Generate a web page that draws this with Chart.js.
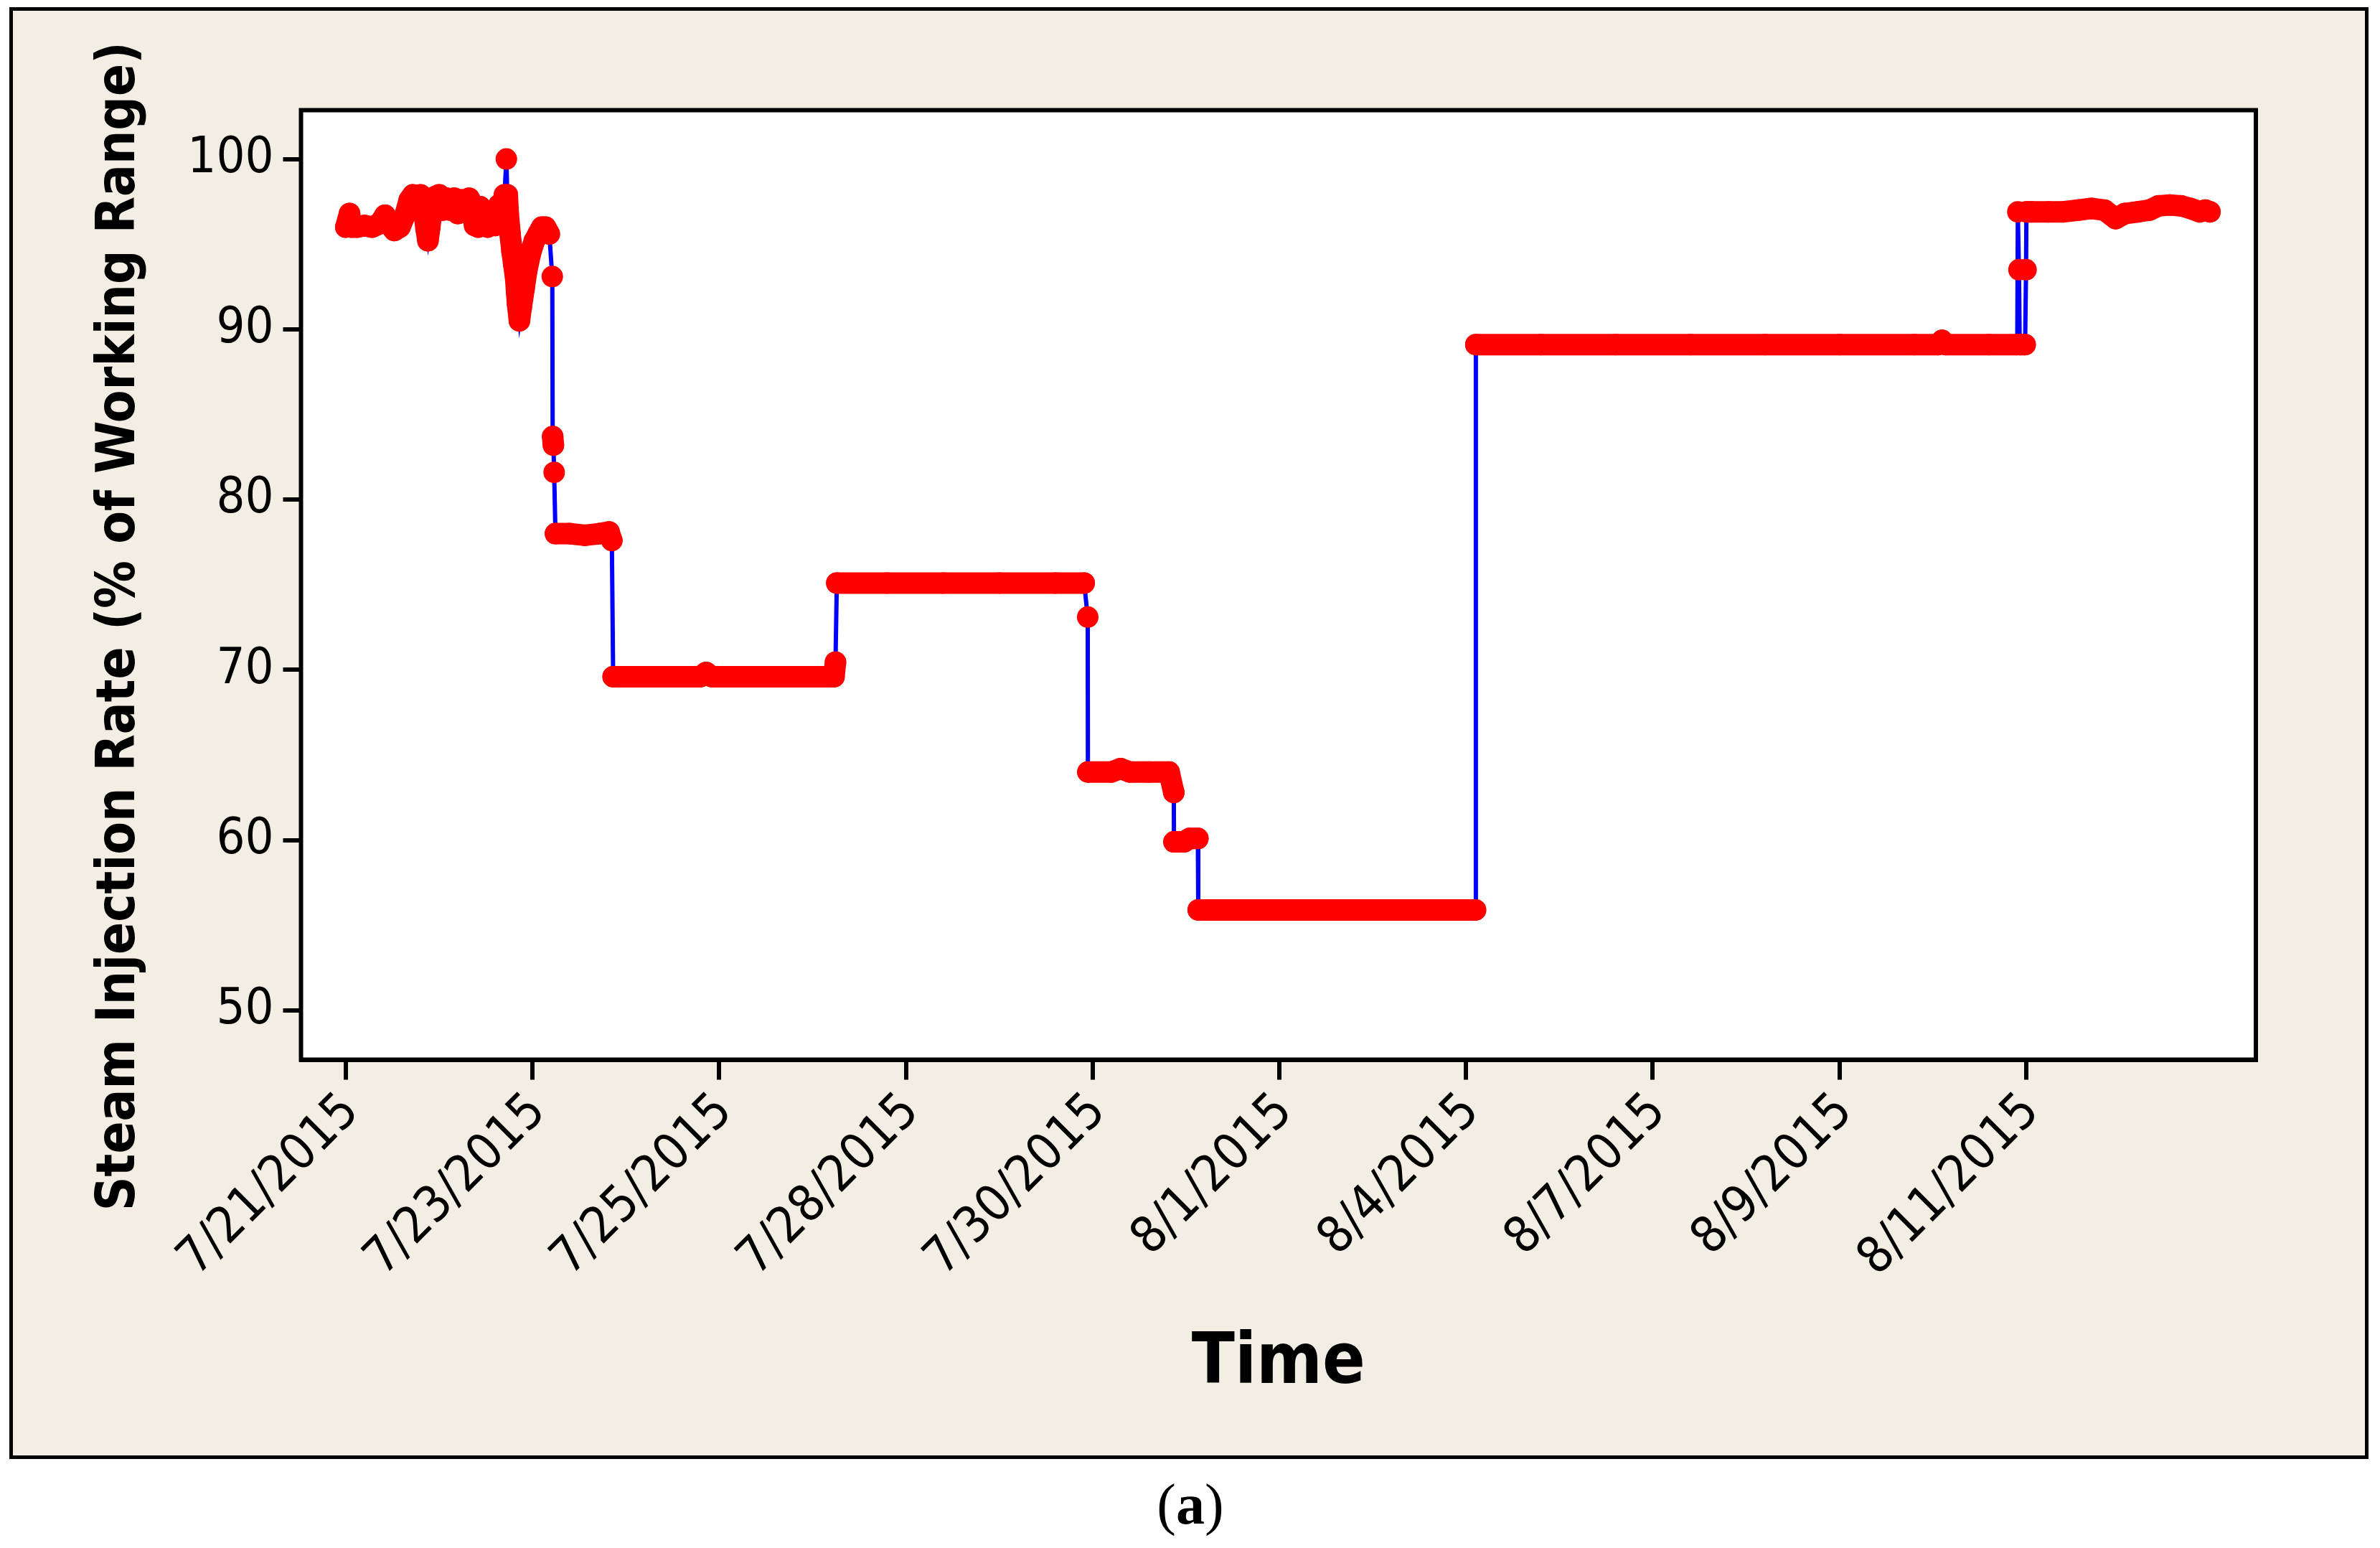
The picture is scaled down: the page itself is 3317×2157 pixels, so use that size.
<!DOCTYPE html>
<html><head><meta charset="utf-8">
<script src="https://cdn.jsdelivr.net/npm/chart.js@4.4.1/dist/chart.umd.min.js"></script>
<style>
html,body{margin:0;padding:0;background:#fff;width:3317px;height:2157px;overflow:hidden;}
#panel{position:absolute;left:13px;top:10px;width:3278px;height:2013px;border:5px solid #000;background:#F3EEE3;}
#panel canvas{position:absolute;left:0;top:0;}
#caption{position:absolute;left:1559px;top:2056px;width:200px;text-align:center;font:80px/80px "Liberation Serif","Times New Roman",serif;color:#000;}
</style></head><body>
<div id="panel"><canvas id="c" width="3278" height="2013"></canvas></div>
<div id="caption">(<b>a</b>)</div>
<script>
// observation index (tick spacing = 100 observations) and steam injection rate (% of working range)
const obsIndex = [
  0,2,3,6,10,14,18,21,23,26,29,32,34,36,38,40,42,43,44,45,46,48,50,52,54,56,58,60,62,64,66,68,69,71,72,74,76,78,80,82,83,84,85,
  86,86.5,87,88,89,90,91,91.5,92,93,94,95.5,97,99,101,103,105,107,109,110.6,110.8,111.2,111.6,112.3,
  120,128,136,141,142.5,143.2,
  160,180,190,193,196,220,245,261.5,262.3,263,
  290,320,350,380,395.5,397.4,397.5,
  410,415,420,430,441,443.5,443.6,
  449,452,456.4,456.6,
  480,510,540,570,605.1,605.3,
  640,680,720,760,800,840,853,855,857,880,895.3,895.6,896.2,896.6,899.5,900.0,900.2,
  903,912,920,928,935,942,948,953,960,966,971,977,983,988,993,996,998.5
];
const steamRate = [
  96.0,96.8,96.0,96.0,96.1,96.0,96.2,96.7,96.2,95.8,96.0,96.8,97.6,97.9,97.2,97.9,96.8,95.9,95.2,96.0,96.9,97.8,97.9,97.0,97.7,97.0,97.7,96.8,97.6,96.9,97.7,96.8,96.1,96.0,97.2,96.3,96.0,96.7,96.1,97.3,96.6,97.4,97.9,
  100.0,97.9,96.8,95.6,94.6,93.8,93.0,92.2,91.5,90.5,91.3,92.4,93.5,94.5,95.2,95.6,96.0,96.0,95.6,93.1,83.7,83.2,81.6,78.0,
  78.0,77.9,78.0,78.1,77.6,69.6,
  69.6,69.6,69.6,69.85,69.6,69.6,69.6,69.6,70.45,75.1,
  75.1,75.1,75.1,75.1,75.1,73.1,64.0,
  64.0,64.2,64.0,64.0,64.0,62.8,59.9,
  59.9,60.1,60.1,55.9,
  55.9,55.9,55.9,55.9,55.9,89.1,
  89.1,89.1,89.1,89.1,89.1,89.1,89.1,89.35,89.1,89.1,89.1,96.9,93.5,89.1,89.1,93.5,96.9,
  96.9,96.9,96.9,97.0,97.1,97.0,96.5,96.8,96.9,97.0,97.25,97.3,97.25,97.1,96.9,97.0,96.9
];
const dateTickIndex = [0,100,200,300,400,500,600,700,800,900];
const dateTickLabels = ['7/21/2015','7/23/2015','7/25/2015','7/28/2015','7/30/2015','8/1/2015','8/4/2015','8/7/2015','8/9/2015','8/11/2015'];
const rateTicks = [50,60,70,80,90,100];
const xTitle = 'Time';
const yTitle = 'Steam Injection Rate (% of Working Range)';

function fontAvailable(name){
  const c=document.createElement('canvas').getContext('2d');
  const s='mmmmmmmmmmlli0123456789/WQ';
  c.font='72px monospace'; const a=c.measureText(s).width;
  c.font='72px "'+name+'", monospace'; const b=c.measureText(s).width;
  return a!==b;
}
const COND = fontAvailable('DejaVu Sans Condensed');
const FAMILY = COND ? '"DejaVu Sans Condensed", "DejaVu Sans", sans-serif' : '"DejaVu Sans", sans-serif';
const K = COND ? 1 : 0.92;
const TICK_SIZE = Math.round(70*K), YT_SIZE = Math.round(74*K), XT_SIZE = Math.round(98*K);

// shift y title downward along the axis (reference title is not centred on the plot)
const mctx=document.createElement('canvas').getContext('2d');
mctx.font='bold '+YT_SIZE+'px '+FAMILY;
const nb = Math.max(0, Math.round(122 / mctx.measureText('\u00A0').width));
const yTitleText = yTitle + '\u00A0'.repeat(nb);

const RED='#FF0000', BLUE='#0000FF', BLACK='#000000';
const pts = obsIndex.map((x,i)=>({x:x, y:steamRate[i]}));
const JUMP = 1.5;

const framePlugin = {
  id:'frame',
  beforeDatasetsDraw(chart){
    const {ctx, chartArea:a} = chart;
    ctx.save(); ctx.fillStyle='#FFFFFF'; ctx.fillRect(a.left,a.top,a.right-a.left,a.bottom-a.top); ctx.restore();
  },
  afterDraw(chart){
    const {ctx, chartArea:a} = chart;
    ctx.save(); ctx.strokeStyle=BLACK; ctx.lineWidth=6; ctx.lineJoin='miter';
    ctx.strokeRect(a.left,a.top,a.right-a.left,a.bottom-a.top); ctx.restore();
  }
};

new Chart(document.getElementById('c'), {
  type:'line',
  data:{datasets:[
    {label:'Observations', data:pts, borderColor:RED, borderWidth:30, borderCapStyle:'round', borderJoinStyle:'round',
     pointRadius:15, pointBackgroundColor:RED, pointBorderColor:RED, pointBorderWidth:0, pointHoverRadius:15, tension:0,
     segment:{borderColor: c => Math.abs(c.p0.parsed.y - c.p1.parsed.y) < JUMP ? RED : 'rgba(0,0,0,0)'}},
    {label:'Trace', data:pts, borderColor:BLUE, borderWidth:6, pointRadius:0, pointHoverRadius:0, tension:0}
  ]},
  options:{
    responsive:false, animation:false, devicePixelRatio:1,
    layout:{padding:{left:0, top:138.5, right:152, bottom:0}},
    plugins:{legend:{display:false}, tooltip:{enabled:false}, title:{display:false}},
    scales:{
      x:{type:'linear', min:-24, max:1023.1,
        afterBuildTicks:s=>{ s.ticks = dateTickIndex.map(v=>({value:v})); },
        afterFit:s=>{ s.height = 2013-1461.5; },
        ticks:{autoSkip:false, minRotation:45, maxRotation:45, padding:4, labelOffset:8, color:BLACK,
               font:{family:FAMILY, size:TICK_SIZE}, callback:(v,i)=>dateTickLabels[i]},
        grid:{drawOnChartArea:false, drawTicks:true, tickLength:28, lineWidth:6, color:BLACK, tickColor:BLACK},
        border:{display:true, width:6, color:BLACK},
        title:{display:true, text:xTitle, color:BLACK, font:{family:FAMILY, size:XT_SIZE, weight:'bold'}, padding:{top:0,bottom:68}}
      },
      y:{type:'linear', min:47.11, max:102.87,
        afterBuildTicks:s=>{ s.ticks = rateTicks.map(v=>({value:v})); },
        afterFit:s=>{ s.width = 401.5; },
        ticks:{padding:13, color:BLACK, font:{family:FAMILY, size:TICK_SIZE}, callback:v=>String(v)},
        grid:{drawOnChartArea:false, drawTicks:true, tickLength:25, lineWidth:6, color:BLACK, tickColor:BLACK},
        border:{display:true, width:6, color:BLACK},
        title:{display:true, text:yTitleText, color:BLACK, font:{family:FAMILY, size:YT_SIZE, weight:'bold'}, padding:{top:105,bottom:0}}
      }
    }
  },
  plugins:[framePlugin]
});
</script>
</body></html>
